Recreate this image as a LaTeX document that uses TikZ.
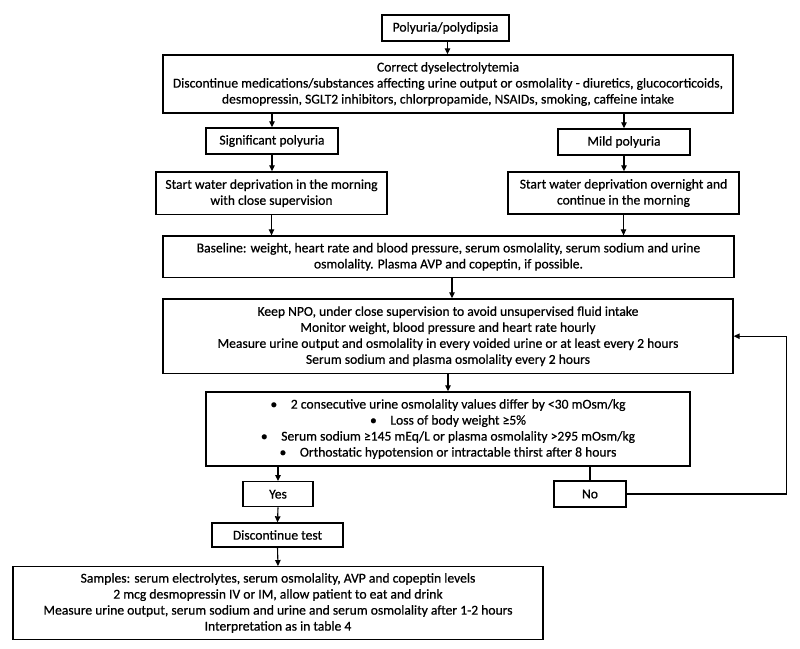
\documentclass[tikz,border=0pt]{standalone}
\usepackage{fontspec}
\setmainfont{Carlito}[UprightFeatures={FakeBold=0.6}]
\usetikzlibrary{arrows.meta,calc}
\begin{document}
\begin{tikzpicture}[x=1pt,y=-1pt,
  box/.style={draw=black, line width=1.4pt, rectangle, inner sep=0pt, align=center,
    font=\fontsize{13.6}{16}\selectfont},
  arr/.style={line width=1.1pt, -{Triangle[length=6pt,width=5.5pt]}},
  ln/.style={line width=1.1pt}]
\useasboundingbox[fill=white] (0,0) rectangle (800,648);
\node[box, minimum width=127pt, minimum height=26pt] (P) at (445.5,28) {Polyuria/polydipsia};
\node[box, minimum width=570pt, minimum height=58pt] (C) at (448,84) {Correct dyselectrolytemia\\Discontinue medications/substances affecting urine output or osmolality - diuretics, glucocorticoids,\\desmopressin, SGLT2 inhibitors, chlorpropamide, NSAIDs, smoking, caffeine intake};
\node[box, minimum width=132pt, minimum height=26pt] (S) at (272,141) {Significant polyuria};
\node[box, minimum width=132pt, minimum height=26pt] (M) at (624,142) {Mild polyuria};
\node[box, minimum width=231pt, minimum height=42.5pt] (SM) at (271.5,193.2) {Start water deprivation in the morning\\with close supervision};
\node[box, minimum width=231pt, minimum height=42pt] (SO) at (623.5,193) {Start water deprivation overnight and\\continue in the morning};
\node[box, minimum width=571pt, minimum height=41.5pt] (B) at (448.5,256.8) {Baseline: weight, heart rate and blood pressure, serum osmolality, serum sodium and urine\\osmolality. Plasma AVP and copeptin, if possible.};
\node[box, minimum width=570pt, minimum height=74.5pt] (K) at (448,336.2) {Keep NPO, under close supervision to avoid unsupervised fluid intake\\Monitor weight, blood pressure and heart rate hourly\\Measure urine output and osmolality in every voided urine or at least every 2 hours\\Serum sodium and plasma osmolality every 2 hours};
\node[box, minimum width=484pt, minimum height=74pt] (CR) at (448,429) {•\quad 2 consecutive urine osmolality values differ by <30 mOsm/kg\\•\quad Loss of body weight ≥5\%\\•\quad Serum sodium ≥145 mEq/L or plasma osmolality >295 mOsm/kg\\•\quad Orthostatic hypotension or intractable thirst after 8 hours};
\node[box, minimum width=70pt, minimum height=25pt] (Y) at (278,494.2) {Yes};
\node[box, minimum width=72pt, minimum height=26pt] (N) at (590,494) {No};
\node[box, minimum width=131pt, minimum height=24pt] (D) at (277.5,535) {Discontinue test};
\node[box, minimum width=530pt, minimum height=72.5pt] (SA) at (278,603) {Samples: serum electrolytes, serum osmolality, AVP and copeptin levels\\2 mcg desmopressin IV or IM, allow patient to eat and drink\\Measure urine output, serum sodium and urine and serum osmolality after 1-2 hours\\Interpretation as in table 4};
\coordinate (loop) at (786.7,494);
\draw[arr] ([xshift=2pt]P.south) -- ([xshift=2pt]P.south |- C.north);
\draw[arr] (C.south -| S) -- (S.north);
\draw[arr] (C.south -| M) -- (M.north);
\draw[arr] (S.south) -- (S.south |- SM.north);
\draw[arr] (M.south) -- (M.south |- SO.north);
\draw[arr] (SM.south) -- (SM.south |- B.north);
\draw[arr] (SO.south) -- (SO.south |- B.north);
\draw[arr] ([xshift=3.5pt]B.south) -- ([xshift=3.5pt]B.south |- K.north);
\draw[arr] (K.south) -- (CR.north);
\draw[arr] (CR.south -| Y) -- (Y.north);
\draw[ln] (CR.south -| N) -- (N.north);
\draw[arr] (Y.south) -- (D.north);
\draw[arr] (D.south) -- (SA.north);
\draw[arr] (N.east) -- (loop) |- (K.east);
\end{tikzpicture}
\end{document}
